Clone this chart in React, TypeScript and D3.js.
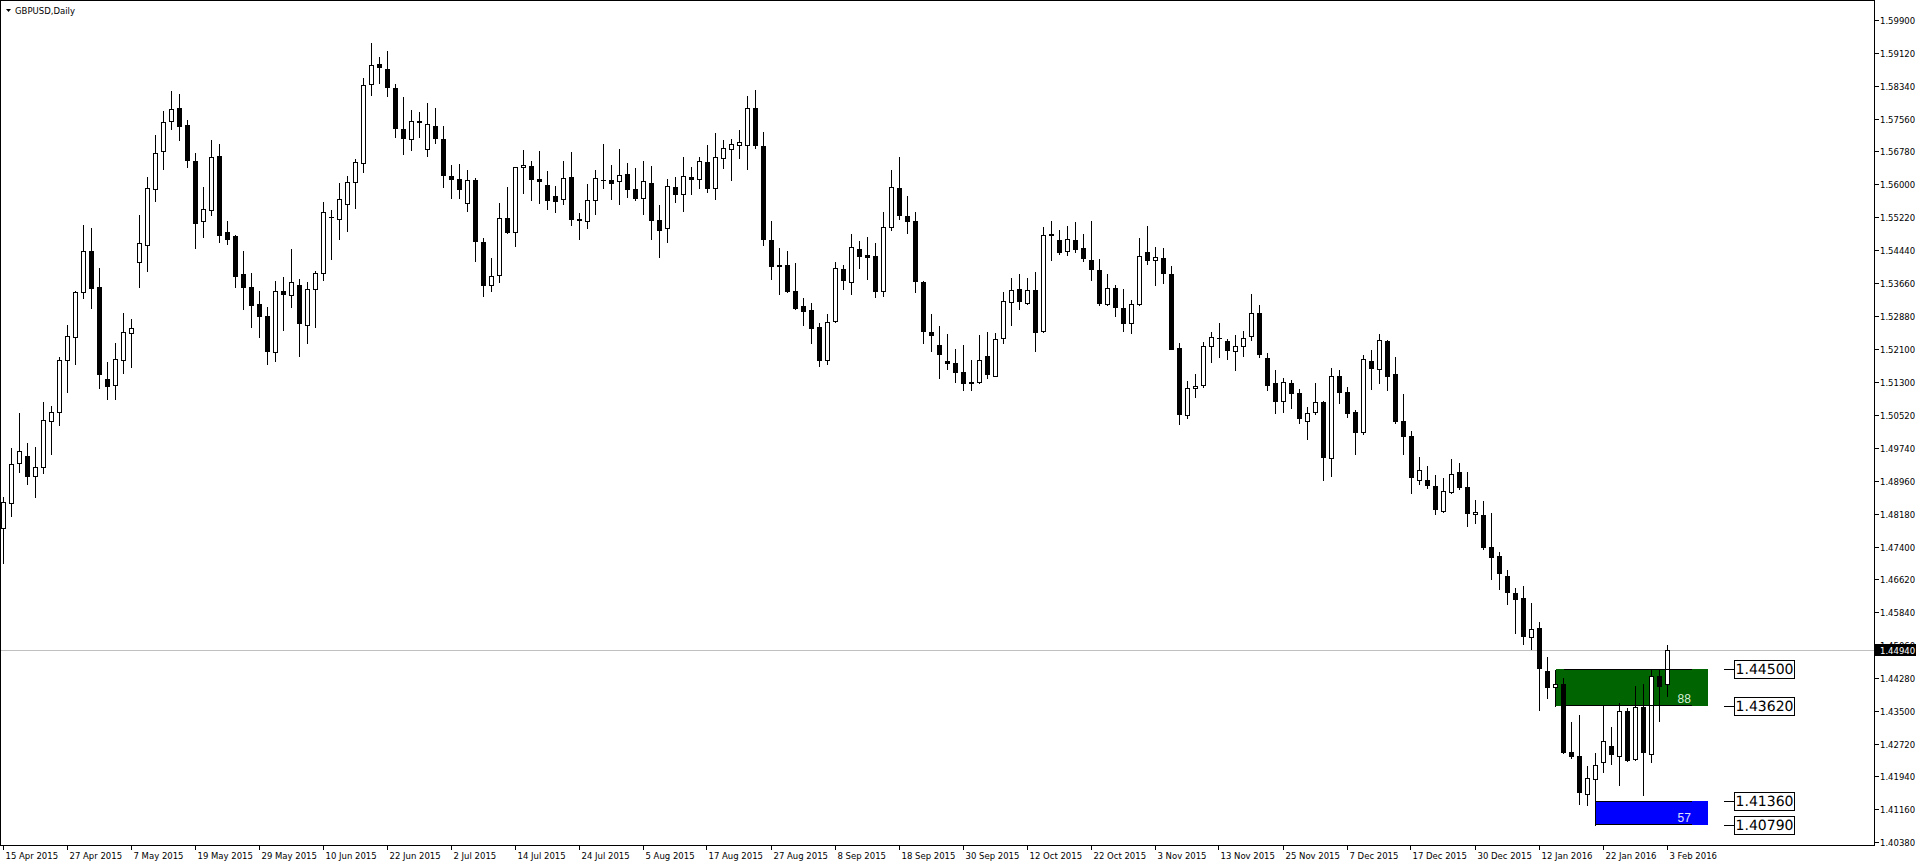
import React from 'react';
import * as d3 from 'd3';

const OPEN = [
  1.4783, 1.4843, 1.4938, 1.4954, 1.4907, 1.4928, 1.5037, 1.5059, 1.5182, 1.5237,
  1.5344, 1.5441, 1.5355, 1.5137, 1.5123, 1.5182, 1.5246, 1.5415, 1.5455, 1.5588,
  1.5678, 1.5750, 1.5780, 1.5740, 1.5655, 1.5512, 1.5538, 1.5666, 1.5486, 1.5478,
  1.5386, 1.5355, 1.5315, 1.5287, 1.5201, 1.5346, 1.5336, 1.5362, 1.5265, 1.5351,
  1.5389, 1.5522, 1.5517, 1.5552, 1.5605, 1.5650, 1.5837, 1.5886, 1.5873, 1.5828,
  1.5731, 1.5707, 1.5751, 1.5683, 1.5738, 1.5707, 1.5619, 1.5612, 1.5555, 1.5609,
  1.5464, 1.5362, 1.5384, 1.5519, 1.5487, 1.5640, 1.5643, 1.5612, 1.5598, 1.5571,
  1.5564, 1.5617, 1.5517, 1.5512, 1.5562, 1.5609, 1.5609, 1.5607, 1.5624, 1.5588,
  1.5567, 1.5602, 1.5514, 1.5496, 1.5593, 1.5576, 1.5617, 1.5612, 1.5652, 1.5590,
  1.5662, 1.5683, 1.5693, 1.5693, 1.5780, 1.5690, 1.5467, 1.5408, 1.5408, 1.5346,
  1.5310, 1.5301, 1.5260, 1.5182, 1.5275, 1.5398, 1.5367, 1.5446, 1.5431, 1.5429,
  1.5346, 1.5498, 1.5590, 1.5524, 1.5512, 1.5367, 1.5249, 1.5218, 1.5180, 1.5175,
  1.5154, 1.5131, 1.5130, 1.5192, 1.5146, 1.5234, 1.5320, 1.5351, 1.5317, 1.5348,
  1.5251, 1.5481, 1.5467, 1.5441, 1.5467, 1.5448, 1.5420, 1.5396, 1.5315, 1.5353,
  1.5306, 1.5270, 1.5315, 1.5439, 1.5420, 1.5424, 1.5386, 1.5211, 1.5052, 1.5116,
  1.5123, 1.5215, 1.5234, 1.5227, 1.5203, 1.5215, 1.5239, 1.5294, 1.5187, 1.5128,
  1.5085, 1.5128, 1.5104, 1.5037, 1.5059, 1.5082, 1.4949, 1.5146, 1.5106, 1.5059,
  1.5011, 1.5180, 1.5161, 1.5227, 1.5149, 1.5037, 1.5002, 1.4897, 1.4897, 1.4883,
  1.4824, 1.4869, 1.4916, 1.4881, 1.4816, 1.4814, 1.4738, 1.4717, 1.4669, 1.4629,
  1.4617, 1.4524, 1.4546, 1.4444, 1.4406, 1.4413, 1.4251, 1.4242, 1.4152, 1.4187,
  1.4228, 1.4266, 1.4242, 1.4349, 1.4235, 1.4358, 1.4247, 1.4432, 1.4413,
];
const HIGH = [
  1.4858, 1.4973, 1.5056, 1.4985, 1.4976, 1.5083, 1.5073, 1.5189, 1.5265, 1.5346,
  1.5503, 1.5496, 1.5401, 1.5177, 1.5222, 1.5294, 1.5280, 1.5527, 1.5617, 1.5717,
  1.5773, 1.5821, 1.5814, 1.5752, 1.5674, 1.5594, 1.5705, 1.5696, 1.5512, 1.5480,
  1.5441, 1.5389, 1.5346, 1.5308, 1.5370, 1.5379, 1.5446, 1.5374, 1.5367, 1.5393,
  1.5557, 1.5538, 1.5602, 1.5619, 1.5659, 1.5852, 1.5935, 1.5901, 1.5916, 1.5837,
  1.5807, 1.5776, 1.5771, 1.5792, 1.5780, 1.5738, 1.5645, 1.5647, 1.5633, 1.5614,
  1.5472, 1.5424, 1.5555, 1.5594, 1.5642, 1.5681, 1.5655, 1.5678, 1.5631, 1.5595,
  1.5655, 1.5676, 1.5531, 1.5600, 1.5633, 1.5695, 1.5645, 1.5683, 1.5650, 1.5638,
  1.5655, 1.5643, 1.5550, 1.5612, 1.5617, 1.5664, 1.5640, 1.5664, 1.5693, 1.5721,
  1.5704, 1.5707, 1.5729, 1.5810, 1.5824, 1.5723, 1.5512, 1.5448, 1.5441, 1.5413,
  1.5329, 1.5317, 1.5270, 1.5291, 1.5415, 1.5408, 1.5481, 1.5465, 1.5474, 1.5460,
  1.5533, 1.5633, 1.5664, 1.5571, 1.5533, 1.5370, 1.5291, 1.5263, 1.5244, 1.5208,
  1.5218, 1.5182, 1.5241, 1.5249, 1.5246, 1.5344, 1.5377, 1.5386, 1.5377, 1.5391,
  1.5498, 1.5512, 1.5491, 1.5500, 1.5510, 1.5481, 1.5512, 1.5422, 1.5386, 1.5362,
  1.5351, 1.5325, 1.5472, 1.5500, 1.5450, 1.5448, 1.5405, 1.5222, 1.5132, 1.5149,
  1.5225, 1.5249, 1.5270, 1.5232, 1.5241, 1.5251, 1.5339, 1.5313, 1.5199, 1.5158,
  1.5139, 1.5135, 1.5113, 1.5071, 1.5128, 1.5085, 1.5163, 1.5158, 1.5118, 1.5063,
  1.5194, 1.5206, 1.5244, 1.5230, 1.5189, 1.5101, 1.5014, 1.4952, 1.4930, 1.4909,
  1.4902, 1.4947, 1.4938, 1.4916, 1.4850, 1.4847, 1.4819, 1.4726, 1.4684, 1.4641,
  1.4646, 1.4605, 1.4560, 1.4477, 1.4448, 1.4427, 1.4323, 1.4339, 1.4218, 1.4249,
  1.4364, 1.4311, 1.4368, 1.4356, 1.4408, 1.4413, 1.4446, 1.4446, 1.4505,
];
const LOW = [
  1.4702, 1.4813, 1.4918, 1.4889, 1.4858, 1.4915, 1.4960, 1.5029, 1.5108, 1.5174,
  1.5331, 1.5307, 1.5117, 1.5091, 1.5091, 1.5153, 1.5165, 1.5357, 1.5395, 1.5561,
  1.5637, 1.5732, 1.5706, 1.5642, 1.5449, 1.5476, 1.5528, 1.5464, 1.5459, 1.5357,
  1.5305, 1.5262, 1.5238, 1.5173, 1.5181, 1.5253, 1.5308, 1.5193, 1.5224, 1.5260,
  1.5372, 1.5423, 1.5471, 1.5490, 1.5544, 1.5630, 1.5811, 1.5840, 1.5809, 1.5713,
  1.5671, 1.5681, 1.5713, 1.5666, 1.5697, 1.5593, 1.5567, 1.5567, 1.5536, 1.5417,
  1.5334, 1.5347, 1.5367, 1.5485, 1.5454, 1.5580, 1.5563, 1.5556, 1.5542, 1.5533,
  1.5554, 1.5504, 1.5471, 1.5495, 1.5530, 1.5592, 1.5566, 1.5552, 1.5569, 1.5562,
  1.5530, 1.5471, 1.5428, 1.5462, 1.5559, 1.5537, 1.5578, 1.5592, 1.5582, 1.5566,
  1.5639, 1.5609, 1.5662, 1.5636, 1.5685, 1.5455, 1.5374, 1.5339, 1.5344, 1.5303,
  1.5267, 1.5222, 1.5168, 1.5174, 1.5273, 1.5352, 1.5340, 1.5402, 1.5376, 1.5332,
  1.5334, 1.5491, 1.5517, 1.5484, 1.5344, 1.5222, 1.5203, 1.5139, 1.5161, 1.5131,
  1.5111, 1.5111, 1.5128, 1.5139, 1.5144, 1.5222, 1.5265, 1.5303, 1.5315, 1.5203,
  1.5249, 1.5420, 1.5434, 1.5431, 1.5439, 1.5417, 1.5372, 1.5313, 1.5313, 1.5287,
  1.5251, 1.5246, 1.5313, 1.5410, 1.5362, 1.5365, 1.5208, 1.5030, 1.5044, 1.5094,
  1.5118, 1.5177, 1.5189, 1.5184, 1.5158, 1.5192, 1.5230, 1.5189, 1.5111, 1.5056,
  1.5059, 1.5068, 1.5033, 1.4996, 1.5054, 1.4897, 1.4907, 1.5080, 1.5047, 1.4959,
  1.5006, 1.5113, 1.5128, 1.5111, 1.5033, 1.4959, 1.4866, 1.4888, 1.4878, 1.4817,
  1.4821, 1.4866, 1.4876, 1.4788, 1.4795, 1.4733, 1.4664, 1.4638, 1.4603, 1.4534,
  1.4508, 1.4496, 1.4351, 1.4380, 1.4361, 1.4249, 1.4237, 1.4128, 1.4126, 1.4079,
  1.4204, 1.4223, 1.4173, 1.4230, 1.4233, 1.4149, 1.4228, 1.4325, 1.4384,
];
const CLOSE = [
  1.4845, 1.4935, 1.4966, 1.4908, 1.4928, 1.5040, 1.5059, 1.5182, 1.5239, 1.5344,
  1.5441, 1.5354, 1.5149, 1.5122, 1.5184, 1.5249, 1.5258, 1.5460, 1.5590, 1.5674,
  1.5747, 1.5778, 1.5739, 1.5657, 1.5509, 1.5541, 1.5664, 1.5479, 1.5471, 1.5383,
  1.5357, 1.5314, 1.5288, 1.5203, 1.5346, 1.5340, 1.5367, 1.5271, 1.5351, 1.5389,
  1.5533, 1.5522, 1.5564, 1.5605, 1.5652, 1.5835, 1.5882, 1.5878, 1.5830, 1.5733,
  1.5709, 1.5750, 1.5747, 1.5742, 1.5709, 1.5621, 1.5613, 1.5588, 1.5609, 1.5465,
  1.5362, 1.5383, 1.5519, 1.5487, 1.5640, 1.5645, 1.5612, 1.5608, 1.5563, 1.5561,
  1.5614, 1.5518, 1.5514, 1.5562, 1.5614, 1.5609, 1.5604, 1.5621, 1.5588, 1.5567,
  1.5607, 1.5514, 1.5491, 1.5595, 1.5576, 1.5619, 1.5613, 1.5655, 1.5590, 1.5664,
  1.5685, 1.5695, 1.5700, 1.5780, 1.5693, 1.5469, 1.5405, 1.5405, 1.5347, 1.5307,
  1.5300, 1.5258, 1.5182, 1.5272, 1.5401, 1.5372, 1.5450, 1.5429, 1.5427, 1.5346,
  1.5498, 1.5593, 1.5528, 1.5512, 1.5370, 1.5251, 1.5243, 1.5196, 1.5176, 1.5154,
  1.5128, 1.5128, 1.5182, 1.5149, 1.5232, 1.5322, 1.5348, 1.5322, 1.5348, 1.5249,
  1.5479, 1.5479, 1.5439, 1.5469, 1.5447, 1.5424, 1.5398, 1.5317, 1.5353, 1.5308,
  1.5270, 1.5315, 1.5429, 1.5420, 1.5427, 1.5389, 1.5210, 1.5054, 1.5116, 1.5120,
  1.5215, 1.5237, 1.5234, 1.5206, 1.5215, 1.5234, 1.5294, 1.5196, 1.5124, 1.5085,
  1.5130, 1.5104, 1.5044, 1.5056, 1.5082, 1.4952, 1.5146, 1.5108, 1.5056, 1.5011,
  1.5184, 1.5163, 1.5230, 1.5144, 1.5037, 1.5002, 1.4904, 1.4921, 1.4885, 1.4829,
  1.4871, 1.4911, 1.4881, 1.4819, 1.4821, 1.4740, 1.4714, 1.4676, 1.4631, 1.4615,
  1.4527, 1.4543, 1.4451, 1.4406, 1.4413, 1.4251, 1.4242, 1.4156, 1.4190, 1.4221,
  1.4278, 1.4247, 1.4349, 1.4232, 1.4358, 1.4251, 1.4432, 1.4408, 1.4494,
];

const DATE_LABELS = [
  '15 Apr 2015', '27 Apr 2015', '7 May 2015', '19 May 2015', '29 May 2015', '10 Jun 2015',
  '22 Jun 2015', '2 Jul 2015', '14 Jul 2015', '24 Jul 2015', '5 Aug 2015', '17 Aug 2015',
  '27 Aug 2015', '8 Sep 2015', '18 Sep 2015', '30 Sep 2015', '12 Oct 2015', '22 Oct 2015',
  '3 Nov 2015', '13 Nov 2015', '25 Nov 2015', '7 Dec 2015', '17 Dec 2015', '30 Dec 2015',
  '12 Jan 2016', '22 Jan 2016', '3 Feb 2016',
];
const BARS_PER_LABEL = 8;

const PRICE_TICKS = [
  '1.59900', '1.59120', '1.58340', '1.57560', '1.56780', '1.56000', '1.55220', '1.54440',
  '1.53660', '1.52880', '1.52100', '1.51300', '1.50520', '1.49740', '1.48960', '1.48180',
  '1.47400', '1.46620', '1.45840', '1.45060', '1.44280', '1.43500', '1.42720', '1.41940',
  '1.41160', '1.40380',
];

const LAST_PRICE = 1.4494;
const SYMBOL_TITLE = 'GBPUSD,Daily';

// zones: price band, bar-anchored start/end, label
const ZONE_TOP = [1.445, 1.4136];
const ZONE_BOTTOM = [1.4362, 1.4079];
const ZONE_FROM = [194, 199];
const ZONE_TO = [213, 213];
const ZONE_LINE_FROM = [195, 199];
const ZONE_LINE_TO = [211, 211];
const ZONE_COLORS = ['#006400', '#0000ff'];
const ZONE_TEXT = ['88', '57'];
const ZONE_TEXT_COLORS = ['#d8f0d8', '#e0e0ff'];

const LEVELS = [1.445, 1.4362, 1.4136, 1.4079];

const W = 1916;
const H = 866;
const AXIS_X = 1874;
const AXIS_Y = 845;
const FONT = 'DejaVu Sans, Verdana, sans-serif';

export default function App() {
  const n = CLOSE.length;
  const y = d3.scaleLinear().domain([1.4038, 1.599]).range([842.2, 20]);
  const x = d3.scaleLinear().domain([0, n - 1]).range([3.5, 3.5 + 8 * (n - 1)]);

  const candles = d3.range(n).map((i) => {
    const o = OPEN[i], h = HIGH[i], l = LOW[i], c = CLOSE[i];
    const cx = x(i);
    const yh = Math.round(y(h));
    const yl = Math.round(y(l));
    const yo = Math.round(y(o));
    const yc = Math.round(y(c));
    const top = Math.min(yo, yc);
    const bot = Math.max(yo, yc);
    const up = c > o;
    let body;
    if (bot - top <= 1) {
      body = <rect x={cx - 2.5} y={top} width={5} height={bot - top + 1} fill="#000" />;
    } else if (up) {
      body = (
        <rect x={cx - 2} y={top + 0.5} width={4} height={bot - top} fill="#fff" stroke="#000" strokeWidth={1} />
      );
    } else {
      body = <rect x={cx - 2.5} y={top} width={5} height={bot - top + 1} fill="#000" />;
    }
    return (
      <g key={i}>
        <rect x={cx - 0.5} y={yh} width={1} height={yl - yh + 1} fill="#000" />
        {body}
      </g>
    );
  });

  const lastY = Math.round(y(LAST_PRICE)) + 0.5;

  return (
    <svg
      width={W}
      height={H}
      style={{ position: 'fixed', left: 0, top: 0, display: 'block', background: '#fff' }}
      shapeRendering="crispEdges"
    >
      <rect x={0} y={0} width={W} height={H} fill="#fff" />

      {/* zones */}
      {ZONE_TOP.map((t, k) => {
        const y0 = Math.round(y(t));
        const y1 = Math.round(y(ZONE_BOTTOM[k]));
        const x0 = Math.round(x(ZONE_FROM[k]));
        const x1 = Math.round(x(ZONE_TO[k]));
        return (
          <g key={'z' + k}>
            <rect x={x0} y={y0} width={x1 - x0} height={y1 - y0} fill={ZONE_COLORS[k]} />
          </g>
        );
      })}

      {/* current price line */}
      <line x1={0} x2={AXIS_X} y1={lastY} y2={lastY} stroke="#c0c0c0" strokeWidth={1} />

      {candles}

      {/* zone edge lines and texts */}
      {ZONE_TOP.map((t, k) => {
        const y0 = Math.round(y(t)) + 0.5;
        const y1 = Math.round(y(ZONE_BOTTOM[k])) + 0.5;
        const lx0 = x(ZONE_LINE_FROM[k]);
        const lx1 = x(ZONE_LINE_TO[k]);
        return (
          <g key={'zl' + k}>
            <line x1={lx0} x2={lx1} y1={y0} y2={y0} stroke="#000" />
            <line x1={lx0} x2={lx1} y1={y1 - 1} y2={y1 - 1} stroke="#000" />
            <text
              x={x(ZONE_LINE_TO[k]) - 14}
              y={y1 - 4}
              fontFamily="Liberation Sans, Arial, sans-serif"
              fontSize={12}
              fill={ZONE_TEXT_COLORS[k]}
            >
              {ZONE_TEXT[k]}
            </text>
          </g>
        );
      })}

      {/* level labels */}
      {LEVELS.map((v, k) => {
        const yy = Math.round(y(v)) + 0.5;
        return (
          <g key={'lv' + k}>
            <line x1={1724} x2={1734} y1={yy} y2={yy} stroke="#000" />
            <rect x={1734.5} y={yy - 9} width={60} height={18} fill="#fff" stroke="#000" />
            <text
              x={1764.5}
              y={yy}
              textAnchor="middle"
              dominantBaseline="central"
              fontFamily={FONT}
              fontSize={14}
              fill="#000"
              textRendering="geometricPrecision"
            >
              {v.toFixed(5)}
            </text>
          </g>
        );
      })}

      {/* frame */}
      <line x1={0.5} x2={0.5} y1={0} y2={AXIS_Y} stroke="#000" />
      <line x1={0} x2={AXIS_X} y1={0.5} y2={0.5} stroke="#000" />
      <line x1={AXIS_X + 0.5} x2={AXIS_X + 0.5} y1={0} y2={AXIS_Y + 1} stroke="#000" />
      <line x1={0} x2={AXIS_X + 1} y1={AXIS_Y + 0.5} y2={AXIS_Y + 0.5} stroke="#000" />

      {/* price axis */}
      {PRICE_TICKS.map((t) => {
        const yy = Math.round(y(parseFloat(t))) + 0.5;
        return (
          <g key={t}>
            <line x1={AXIS_X + 1} x2={AXIS_X + 5} y1={yy} y2={yy} stroke="#000" />
            <text
              x={AXIS_X + 6}
              y={yy}
              dominantBaseline="central"
              fontFamily={FONT}
              fontSize={8.5}
              fill="#000"
            >
              {t}
            </text>
          </g>
        );
      })}
      <rect x={AXIS_X + 1} y={lastY - 6.5} width={W - AXIS_X - 1} height={12} fill="#000" />
      <text
        x={AXIS_X + 6}
        y={lastY}
        dominantBaseline="central"
        fontFamily={FONT}
        fontSize={8.5}
        fill="#fff"
      >
        {LAST_PRICE.toFixed(5)}
      </text>

      {/* time axis */}
      {DATE_LABELS.map((d, k) => {
        const xx = Math.round(x(k * BARS_PER_LABEL)) - 0.5;
        return (
          <g key={d}>
            <line x1={xx} x2={xx} y1={AXIS_Y} y2={AXIS_Y + 5} stroke="#000" />
            <text x={xx + 2} y={859} fontFamily={FONT} fontSize={8.5} fill="#000">
              {d}
            </text>
          </g>
        );
      })}

      {/* title */}
      <path d="M6,9 L11,9 L8.5,12 Z" fill="#000" shapeRendering="auto" />
      <text x={15} y={14} fontFamily={FONT} fontSize={8.5} fill="#000">
        {SYMBOL_TITLE}
      </text>
    </svg>
  );
}
